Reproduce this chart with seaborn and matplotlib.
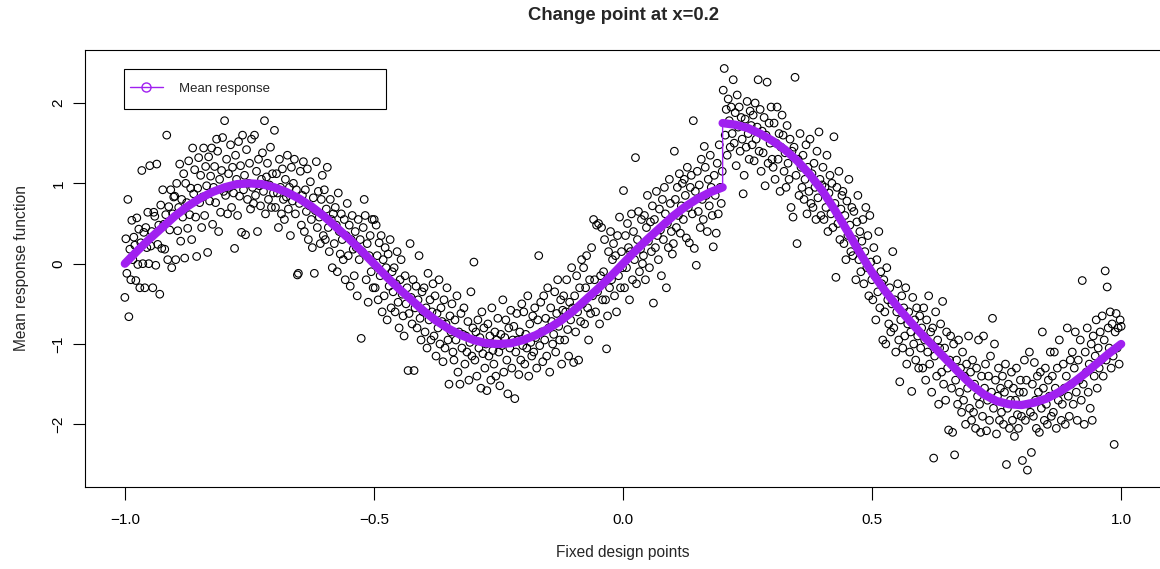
import numpy as np
import pandas as pd
import matplotlib
matplotlib.use("Agg")
import matplotlib.pyplot as plt
import seaborn as sns
from matplotlib.lines import Line2D
from matplotlib.patches import Rectangle

sns.set_style("ticks")
plt.rcParams["font.family"] = ["Liberation Sans", "DejaVu Sans"]

# ---------------- data ----------------
n_points = 1000
design_x = np.linspace(-1.0, 1.0, n_points)

resp_a = [-0.42, 0.31, -0.12, 0.80, -0.66, 0.18, -0.20, 0.54, 0.05, 0.33,
          0.23, -0.21, 0.57, -0.01, 0.43, -0.30, 0.26, 1.16, 0.00, 0.39,
          -0.30, 0.45, 0.20, 0.64, 0.00, 1.22, 0.22, 0.40, -0.30, 0.64,
          0.59, -0.02, 1.24, 0.24, 0.48, -0.38, 0.73, 0.19, 0.92, 0.49,
          0.18, 0.61, 1.60, 0.05, 0.71, 0.42, 0.92, -0.05, 0.62, 0.83,
          0.84, 0.05, 1.00, 0.41, 0.70, 1.24, 0.28, 0.80, 0.58, 1.12,
          0.07, 1.00, 0.76, 0.44, 1.28, 0.61, 0.94, 0.30, 1.44, 0.87,
          1.17, 0.58, 0.09, 0.94, 1.32, 0.76, 1.10, 0.45, 0.83, 1.44,
          0.60, 1.21, 0.97, 0.14, 1.33, 0.78, 1.09, 1.44, 0.49, 0.95,
          1.21, 0.76, 1.55, 1.40, 0.40, 1.05, 0.64, 1.16, 1.57, 0.90]
resp_b = [1.78, 0.85, 1.30, 0.62, 1.12, 0.95, 1.48, 0.70, 1.20, 0.88,
          0.19, 1.35, 1.05, 0.60, 1.52, 0.84, 1.22, 0.39, 1.60, 0.92,
          1.10, 0.36, 1.42, 0.80, 1.00, 1.25, 0.68, 1.55, 0.95, 0.75,
          1.60, 0.85, 1.15, 0.40, 1.30, 0.97, 0.72, 1.05, 1.38, 0.90,
          1.78, 0.62, 1.08, 1.25, 0.80, 0.98, 1.45, 0.70, 1.12, 0.88,
          1.66, 0.70, 1.12, 0.88, 0.45, 1.30, 0.95, 0.62, 1.18, 0.80,
          0.55, 1.05, 0.83, 1.35, 0.68, 0.95, 0.35, 1.20, 0.78, 1.00,
          1.30, 0.62, 0.92, -0.14, -0.12, 0.75, 1.15, 0.48, 0.85, 1.27,
          0.40, 0.92, 0.65, 1.18, 0.30, 0.72, 1.02, 0.55, 0.20, 0.82,
          -0.12, 0.66, 1.27, 0.45, 0.90, 0.58, 0.25, 0.80, 1.10, 0.35]
resp_c = [0.92, 0.30, 0.68, 1.20, 0.45, 0.15, 0.80, 0.55, -0.05, 0.62,
          0.25, 0.70, 0.48, -0.10, 0.88, 0.40, 0.12, 0.62, 0.30, 0.05,
          0.55, -0.20, 0.35, 0.75, 0.10, 0.48, -0.28, 0.30, 0.60, 0.18,
          -0.15, 0.40, 0.20, -0.40, 0.55, 0.05, 0.30, -0.93, 0.15, 0.45,
          0.80, 0.60, -0.20, 0.25, -0.48, 0.10, 0.35, -0.10, 0.55, -0.30,
          0.55, -0.30, 0.48, 0.10, -0.45, 0.26, -0.15, 0.35, -0.60, 0.05,
          -0.40, 0.20, -0.05, -0.70, 0.12, -0.28, 0.30, -0.55, -0.10, -0.35,
          -0.05, -0.60, -0.25, 0.15, -0.48, -0.80, -0.20, 0.05, -0.38, -0.65,
          -0.90, -0.15, -0.50, -0.30, -1.33, -0.62, 0.25, -0.42, -0.75, -0.20,
          -1.33, -0.55, -0.28, -0.80, -0.45, 0.10, -0.68, -0.95, -0.35, -0.60]
resp_d = [-0.30, -0.85, -0.55, -1.05, -0.12, -0.70, -0.45, -0.95, -0.60, -0.25,
          -0.90, -0.40, -1.15, -0.62, -0.80, -0.20, -1.00, -0.55, -0.72, -1.22,
          -0.45, -1.05, -0.75, -0.30, -0.95, -1.50, -0.65, -0.85, -0.50, -1.10,
          -1.20, -0.70, -0.95, -0.40, -1.35, -0.85, -1.50, -0.62, -1.05, -0.88,
          -0.55, -1.25, -0.90, -1.10, -0.72, -1.45, -0.98, -0.35, -1.15, -0.80,
          0.02, -1.20, -0.85, -1.40, -0.70, -1.05, -0.92, -1.55, -0.60, -1.12,
          -0.80, -1.30, -1.00, -1.58, -0.75, -1.15, -0.90, -1.45, -0.55, -1.08,
          -1.25, -0.85, -1.40, -0.95, -0.68, -1.10, -1.52, -0.88, -1.02, -0.45,
          -1.35, -0.92, -0.70, -1.20, -1.62, -0.80, -1.05, -0.58, -1.30, -0.95,
          -0.78, -1.68, -1.10, -0.62, -0.95, -1.38, -0.85, -1.20, -0.50, -1.02]
resp_e = [-0.60, -1.25, -0.88, -1.05, -0.40, -1.40, -0.75, -0.98, -1.15, -0.65,
          -1.10, -0.55, -0.92, -1.30, -0.70, 0.10, -1.02, -0.48, -0.85, -1.22,
          -0.40, -0.95, -0.68, -1.15, -0.30, -0.80, -1.35, -0.55, -0.72, -1.00,
          -0.88, -0.35, -1.10, -0.62, -0.20, -0.78, -0.95, -0.45, -1.25, -0.58,
          -0.40, -0.95, -0.60, -0.20, -0.82, -1.15, -0.48, -0.70, -0.05, -0.55,
          -1.23, -0.40, -0.85, -0.15, -0.60, -1.20, -0.30, -0.72, 0.05, -0.50,
          -0.05, -0.75, -0.30, 0.10, -0.55, -0.95, -0.20, -0.62, 0.20, -0.40,
          0.55, -0.20, -0.60, 0.48, -0.35, 0.50, -0.75, -0.15, 0.45, -0.45,
          -0.10, 0.30, -0.45, -1.06, -0.65, 0.15, -0.30, 0.40, -0.20, 0.05,
          0.25, -0.40, 0.10, -0.60, 0.35, -0.15, 0.58, -0.30, 0.15, -0.05]
resp_f = [0.91, -0.30, 0.35, -0.05, 0.50, 0.20, -0.45, 0.15, 0.62, -0.20,
          0.40, 0.05, 1.32, -0.25, 0.30, 0.65, -0.10, 0.18, 0.55, 0.00,
          0.10, 0.60, -0.20, 0.45, 0.85, 0.28, -0.05, 0.52, 0.15, 0.72,
          -0.49, 0.55, 0.20, 0.90, 0.35, 0.05, 0.68, 0.42, -0.15, 0.80,
          0.30, 0.95, 0.62, -0.30, 0.50, 0.20, 1.05, 0.75, 0.40, 0.12,
          0.25, 1.40, 0.80, 0.45, 0.95, 0.60, 1.12, 0.38, 0.72, 1.00,
          0.55, 1.05, 0.85, 0.32, 1.20, 0.70, 0.26, 0.95, 1.10, 0.62,
          1.78, 0.19, 0.90, -0.02, 1.15, 0.65, 0.98, 0.45, 1.30, 0.80,
          0.55, 1.46, 1.20, 0.85, 0.40, 1.05, 0.72, 1.35, 0.95, 0.60,
          0.21, 1.10, 0.85, 0.38, 1.25, 0.62, 1.48, 0.95, 0.75, 1.15]
resp_g = [2.16, 2.43, 1.60, 1.92, 1.35, 2.05, 1.78, 1.45, 1.95, 1.62,
          2.29, 1.50, 1.88, 1.22, 2.10, 1.70, 1.95, 1.40, 1.82, 1.55,
          0.87, 1.10, 1.80, 1.45, 2.02, 1.62, 1.30, 1.90, 1.72, 1.48,
          1.85, 1.28, 2.00, 1.55, 1.70, 2.29, 1.40, 1.92, 1.15, 1.65,
          1.38, 1.82, 0.97, 1.60, 2.26, 1.25, 1.75, 1.50, 1.95, 1.30,
          1.20, 1.75, 1.05, 1.50, 1.95, 1.30, 1.62, 0.90, 1.45, 1.85,
          1.60, 1.15, 1.38, 0.95, 1.72, 1.25, 1.05, 1.55, 0.70, 1.40,
          0.58, 1.45, 2.32, 1.10, 0.25, 1.30, 0.85, 1.62, 1.20, 0.95,
          1.35, 0.80, 1.05, 1.48, 0.62, 1.20, 0.90, 1.55, 0.75, 1.12,
          0.70, 1.25, 0.95, 0.55, 1.40, 0.82, 1.64, 1.05, 0.60, 0.98]
resp_h = [1.20, 0.55, 0.95, 0.70, 1.35, 0.40, 0.88, 1.10, 0.62, 1.00,
          0.45, 1.58, 0.75, -0.17, 0.95, 0.50, 1.15, 0.30, 0.68, 0.85,
          0.90, 0.25, 0.60, 0.05, 0.78, 0.35, 1.05, 0.48, 0.15, 0.70,
          0.10, 0.65, 0.30, -0.20, 0.52, 0.85, 0.05, 0.40, -0.10, 0.28,
          0.55, -0.25, 0.15, 0.70, -0.05, 0.35, -0.40, 0.60, 0.02, -0.20,
          -0.45, 0.20, -0.15, -0.70, 0.05, -0.35, 0.40, -0.55, -0.10, -0.25,
          -0.95, -0.20, -0.60, -1.00, -0.05, -0.45, -0.75, -0.30, -0.85, -0.50,
          0.15, -0.80, -0.45, -1.10, -0.60, -0.25, -0.95, -1.47, -0.70, -0.40,
          -1.05, -0.55, -0.90, -0.30, -1.25, -0.75, -0.60, -1.10, -0.85, -1.59,
          -0.42, -1.00, -0.70, -1.20, -0.55, -0.90, -1.30, -0.65, -1.05, -0.80]
resp_i = [-1.30, -0.55, -0.95, -1.45, -0.70, -1.10, -0.40, -1.25, -0.85, -1.60,
          -0.80, -2.42, -1.15, -0.60, -1.40, -0.95, -1.75, -1.05, -0.75, -1.35,
          -0.47, -1.50, -1.05, -1.70, -0.85, -1.30, -2.07, -1.20, -0.90, -1.55,
          -2.10, -1.00, -2.38, -1.45, -1.20, -1.75, -0.95, -1.60, -1.30, -1.85,
          -1.10, -1.70, -1.40, -2.00, -1.25, -1.55, -0.90, -1.80, -1.35, -1.95,
          -1.20, -1.85, -1.50, -2.05, -1.30, -1.65, -0.95, -1.75, -2.10, -1.40,
          -1.90, -0.90, -1.55, -1.25, -2.08, -1.70, -1.40, -1.95, -1.15, -1.60,
          -0.68, -1.80, -1.00, -1.45, -2.12, -1.65, -1.30, -1.95, -1.55, -1.85,
          -1.40, -2.00, -1.60, -1.25, -2.50, -1.80, -1.50, -2.05, -1.70, -1.35,
          -1.95, -1.55, -2.15, -1.70, -1.30, -1.88, -2.05, -1.60, -1.45, -1.90]
resp_j = [-2.45, -1.60, -1.20, -1.95, -1.45, -2.57, -1.75, -1.10, -1.85, -2.35,
          -1.50, -1.90, -1.23, -1.70, -2.05, -1.40, -1.60, -2.10, -1.35, -1.80,
          -0.85, -1.55, -1.95, -1.30, -1.75, -2.00, -1.45, -1.65, -1.10, -1.90,
          -1.40, -1.85, -1.10, -1.55, -2.05, -1.30, -1.70, -0.95, -1.60, -1.95,
          -1.75, -1.25, -1.55, -2.00, -1.40, -0.80, -1.65, -1.90, -1.20, -1.50,
          -1.10, -1.75, -1.30, -0.85, -1.60, -1.95, -1.20, -1.45, -0.95, -1.70,
          -0.21, -1.50, -2.00, -1.10, -1.35, -0.80, -1.60, -1.25, -1.80, -1.00,
          -1.95, -0.90, -1.40, -1.15, -0.70, -1.55, -1.05, -1.30, -0.85, -1.20,
          -0.65, -1.40, -0.95, -0.09, -1.20, -0.29, -0.80, -1.05, -0.60, -1.30,
          -0.75, -1.15, -2.25, -0.85, -0.62, -1.05, -0.80, -1.25, -0.70, -0.78]

# Mean response curve (before and after the change point at x = 0.2)
mean_x_pre = [-1.0, -0.975, -0.95, -0.925, -0.9, -0.875, -0.85, -0.825, -0.8, -0.775,
              -0.75, -0.725, -0.7, -0.675, -0.65, -0.625, -0.6, -0.575, -0.55, -0.525,
              -0.5, -0.475, -0.45, -0.425, -0.4, -0.375, -0.35, -0.325, -0.3, -0.275,
              -0.25, -0.225, -0.2, -0.175, -0.15, -0.125, -0.1, -0.075, -0.05, -0.025,
              0.0, 0.025, 0.05, 0.075, 0.1, 0.125, 0.15, 0.175, 0.2]
mean_y_pre = [0.00, 0.16, 0.31, 0.45, 0.59, 0.71, 0.81, 0.89, 0.95, 0.99,
              1.00, 0.99, 0.95, 0.89, 0.81, 0.71, 0.59, 0.45, 0.31, 0.16,
              0.00, -0.16, -0.31, -0.45, -0.59, -0.71, -0.81, -0.89, -0.95, -0.99,
              -1.00, -0.99, -0.95, -0.89, -0.81, -0.71, -0.59, -0.45, -0.31, -0.16,
              0.00, 0.16, 0.31, 0.45, 0.59, 0.71, 0.81, 0.89, 0.95]
mean_x_post = [0.2, 0.225, 0.25, 0.275, 0.3, 0.325, 0.35, 0.375, 0.4, 0.425,
               0.45, 0.475, 0.5, 0.525, 0.55, 0.575, 0.6, 0.625, 0.65, 0.675,
               0.7, 0.725, 0.75, 0.775, 0.8, 0.825, 0.85, 0.875, 0.9, 0.925,
               0.95, 0.975, 1.0]
mean_y_post = [1.75, 1.73, 1.69, 1.62, 1.53, 1.42, 1.28, 1.11, 0.91, 0.67,
               0.41, 0.14, -0.11, -0.33, -0.53, -0.71, -0.88, -1.04, -1.20, -1.36,
               -1.51, -1.63, -1.71, -1.75, -1.76, -1.73, -1.68, -1.60, -1.50, -1.38,
               -1.25, -1.12, -1.00]

x_ticks = [-1.0, -0.5, 0.0, 0.5, 1.0]
x_tick_labels = ["\u22121.0", "\u22120.5", "0.0", "0.5", "1.0"]
y_ticks = [-2, -1, 0, 1, 2]
y_tick_labels = ["\u22122", "\u22121", "0", "1", "2"]

title_text = "Change point at x=0.2"
x_label = "Fixed design points"
y_label = "Mean response function"
legend_label = "Mean response"

# ---------------- build the figure ----------------
PURPLE = "#A020F0"
W, H = 1160, 569

response = np.concatenate([resp_a, resp_b, resp_c, resp_d, resp_e,
                           resp_f, resp_g, resp_h, resp_i, resp_j])
df = pd.DataFrame({"x": design_x, "y": response})

fig = plt.figure(figsize=(W / 100, H / 100), dpi=100)
fig.patch.set_facecolor("white")
ax = fig.add_axes([85 / W, 1 - 487 / H, (1161 - 85) / W, (487 - 50) / H])
ax.set_facecolor("white")

sns.scatterplot(data=df, x="x", y="y", ax=ax, marker="o", s=30,
                facecolor="none", edgecolor="black", linewidth=0.8,
                legend=False, zorder=2)

# thin connecting line (incl. the jump at the change point)
full_x = mean_x_pre + mean_x_post
full_y = mean_y_pre + mean_y_post
sns.lineplot(x=full_x, y=full_y, ax=ax, color=PURPLE, linewidth=1.0,
             sort=False, estimator=None, zorder=3)
# thick band for each piece
sns.lineplot(x=mean_x_pre, y=mean_y_pre, ax=ax, color=PURPLE, linewidth=6.0,
             sort=False, estimator=None, solid_capstyle="round", zorder=4)
sns.lineplot(x=mean_x_post, y=mean_y_post, ax=ax, color=PURPLE, linewidth=6.0,
             sort=False, estimator=None, solid_capstyle="round", zorder=4)

ax.set_xlim(-1.08, 1.08)
ax.set_ylim(-2.78, 2.66)
ax.set_xticks(x_ticks)
ax.set_xticklabels(x_tick_labels)
ax.set_yticks(y_ticks)
ax.set_yticklabels(y_tick_labels, rotation=90, va="center")
ax.tick_params(axis="both", direction="out", length=9, width=0.8,
               colors="black", labelsize=11)
ax.tick_params(axis="x", pad=10)
ax.tick_params(axis="y", pad=5)
ax.set_xlabel("")
ax.set_ylabel("")
for sp in ax.spines.values():
    sp.set_visible(True)
    sp.set_color("black")
    sp.set_linewidth(0.8)

fig.text(623 / W, 1 - 16 / H, title_text, ha="center", va="center",
         fontsize=13.3, fontweight="bold")
fig.text(623 / W, 1 - 552 / H, x_label, ha="center", va="center", fontsize=11.2)
fig.text(22 / W, 1 - 268 / H, y_label, ha="center", va="center",
         rotation=90, fontsize=11.2)

# legend
handle = Line2D([], [], color=PURPLE, linewidth=1.0, marker="o",
                markerfacecolor="none", markeredgecolor=PURPLE, markersize=6.5)
leg = fig.legend(handles=[handle], labels=[legend_label], loc="center left",
                 bbox_to_anchor=(130 / W, 1 - 89 / H), frameon=False,
                 fontsize=9.5, handlelength=2.5, handletextpad=1.25,
                 borderpad=0, borderaxespad=0)
fig.patches.append(Rectangle((124 / W, 1 - 109 / H), 262 / W, 40 / H,
                             transform=fig.transFigure, fill=False,
                             edgecolor="black", linewidth=0.8, zorder=5))

fig.savefig("out.png", dpi=100, facecolor="white")
